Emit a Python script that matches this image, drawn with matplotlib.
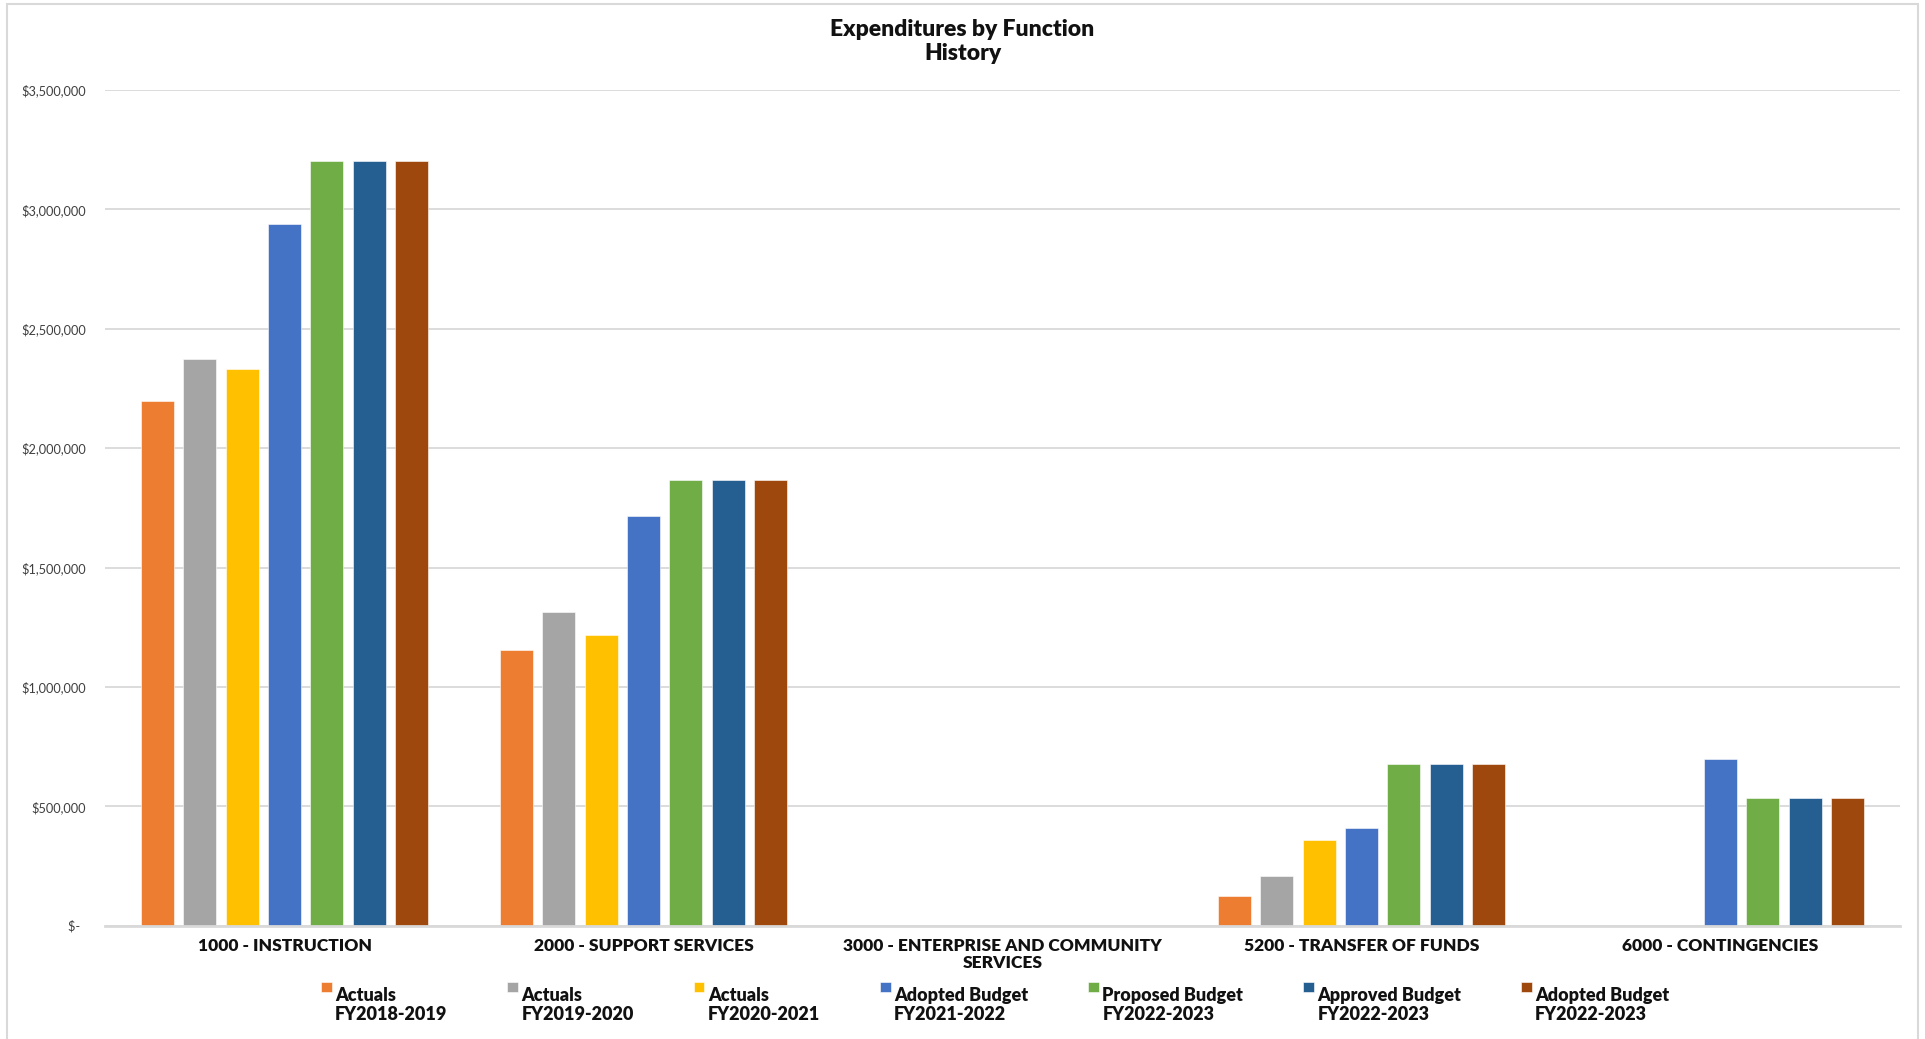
import matplotlib
matplotlib.use("Agg")
import matplotlib.pyplot as plt
import numpy as np
from matplotlib.patches import Rectangle
from matplotlib.legend_handler import HandlerPatch
from matplotlib.ticker import FuncFormatter, MultipleLocator

plt.rcParams['font.family'] = ['Lato', 'DejaVu Sans']

# Functions (x categories)
categories = [
    "1000 - INSTRUCTION",
    "2000 - SUPPORT SERVICES",
    "3000 - ENTERPRISE AND COMMUNITY\nSERVICES",
    "5200 - TRANSFER OF FUNDS",
    "6000 - CONTINGENCIES",
]

# Series labels
series_labels = [
    "Actuals\nFY2018-2019",
    "Actuals\nFY2019-2020",
    "Actuals\nFY2020-2021",
    "Adopted Budget\nFY2021-2022",
    "Proposed Budget\nFY2022-2023",
    "Approved Budget\nFY2022-2023",
    "Adopted Budget\nFY2022-2023",
]

# Expenditures per series, one value per function
actuals_2018_2019 = [2197000, 1156000, 0, 123000, 0]
actuals_2019_2020 = [2373000, 1314000, 0, 209000, 0]
actuals_2020_2021 = [2332000, 1217000, 0, 359000, 0]
adopted_2021_2022 = [2938000, 1714000, 0, 408000, 697000]
proposed_2022_2023 = [3201000, 1868000, 0, 676000, 533000]
approved_2022_2023 = [3201000, 1868000, 0, 676000, 533000]
adopted_2022_2023 = [3201000, 1868000, 0, 676000, 533000]

series_values = [
    actuals_2018_2019, actuals_2019_2020, actuals_2020_2021,
    adopted_2021_2022, proposed_2022_2023, approved_2022_2023,
    adopted_2022_2023,
]

colors = ["#ED7D31", "#A5A5A5", "#FFC000", "#4472C4",
          "#70AD47", "#255E91", "#9E480E"]

W, H = 1925, 1039
fig = plt.figure(figsize=(W / 100, H / 100), dpi=100)
fig.patch.set_facecolor("white")

# outer chart border
fig.patches.append(Rectangle((7 / W, -0.02), (1918 - 7) / W, 1 - 4 / H + 0.02,
                             transform=fig.transFigure, fill=False,
                             edgecolor="#D9D9D9", linewidth=1.5))

ax = fig.add_axes([105 / W, 1 - 925.7 / H, (1900 - 105) / W, (925.7 - 90) / H])

x = np.arange(len(categories))
slot = 0.1178
bar_w = 0.092
handles = []
for i, (vals, col, lab) in enumerate(zip(series_values, colors, series_labels)):
    b = ax.bar(x + (i - 3) * slot, vals, width=bar_w, color=col, label=lab,
               edgecolor="white", linewidth=0.4, zorder=3)
    handles.append(b)

ax.set_xlim(-0.5, len(categories) - 0.5)
ax.set_ylim(0, 3500000)
ax.yaxis.set_major_locator(MultipleLocator(500000))


def money(v, pos):
    if v == 0:
        return "$-  "
    return "${:,.0f}".format(v)


ax.yaxis.set_major_formatter(FuncFormatter(money))
ax.grid(axis="y", color="#D9D9D9", linewidth=1.3, zorder=0)
ax.set_axisbelow(True)
for s in ["top", "right", "left"]:
    ax.spines[s].set_visible(False)
ax.spines["bottom"].set_color("#D9D9D9")
ax.spines["bottom"].set_linewidth(2)
ax.spines["bottom"].set_zorder(4)

ax.set_xticks(x)
ax.set_xticklabels(categories, fontsize=12.5, fontweight="heavy", color="#111111",
                   linespacing=1.1)
ax.tick_params(axis="x", length=0, pad=9)
ax.tick_params(axis="y", length=0, pad=13.5, labelsize=9.2, labelcolor="#404040")

fig.text(0.5, 1 - 19 / H, "Expenditures by Function\nHistory", ha="center",
         va="top", fontsize=16.5, fontweight="heavy", color="#111111",
         linespacing=1.17)

LEG_FS = 13


def top_square(legend, orig_handle, xdescent, ydescent, width, height, fontsize):
    side = 0.58 * fontsize
    return Rectangle((-xdescent + width - side, -ydescent + fontsize * 1.05),
                     side, side)


leg = fig.legend(handles=[h.patches[0] for h in handles], labels=series_labels,
                 loc="upper center", bbox_to_anchor=(995 / W, 1 - 978 / H),
                 ncol=7, frameon=False,
                 prop={"weight": "heavy", "size": LEG_FS},
                 handlelength=0.6, handleheight=0.6, handletextpad=0.2,
                 columnspacing=3.3, borderpad=0,
                 handler_map={Rectangle: HandlerPatch(patch_func=top_square)})
for t in leg.get_texts():
    t.set_color("#111111")
    t.set_linespacing(1.15)

fig.savefig("out.png", dpi=100)
